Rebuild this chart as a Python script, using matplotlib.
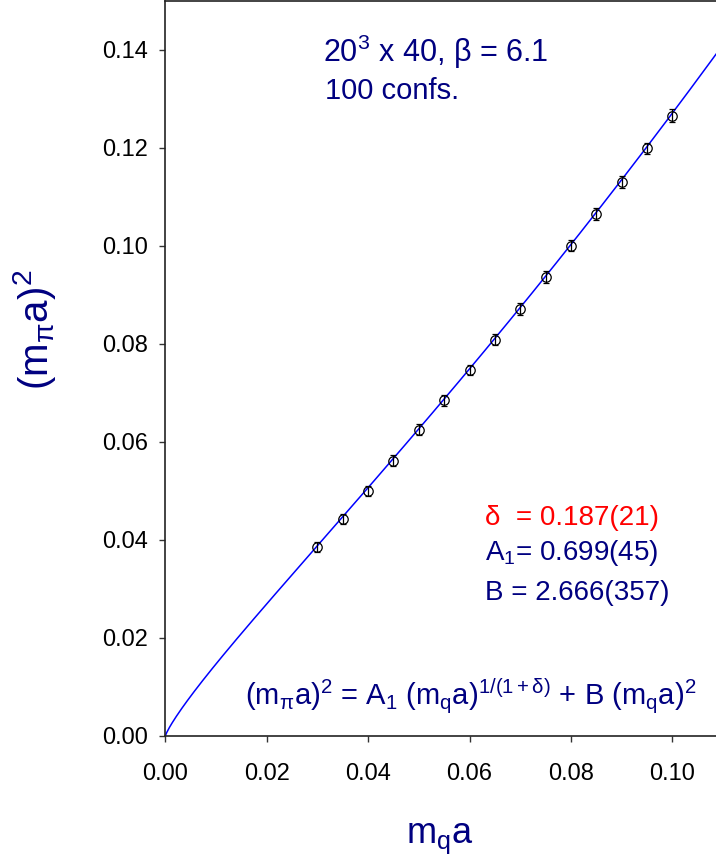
import matplotlib
matplotlib.use("Agg")
import matplotlib.pyplot as plt
import numpy as np

plt.rcParams['font.family'] = ['Liberation Sans', 'DejaVu Sans']
plt.rcParams['mathtext.fontset'] = 'custom'
plt.rcParams['mathtext.rm'] = 'Liberation Sans'
plt.rcParams['mathtext.it'] = 'Liberation Sans'
plt.rcParams['mathtext.bf'] = 'Liberation Sans:bold'

# data
mq = [0.030, 0.035, 0.040, 0.045, 0.050, 0.055, 0.060, 0.065,
      0.070, 0.075, 0.080, 0.085, 0.090, 0.095, 0.100]
mpi2 = [0.0385, 0.0443, 0.0500, 0.0562, 0.0625, 0.0685, 0.0747, 0.0809,
        0.0872, 0.0936, 0.1001, 0.1066, 0.1131, 0.1199, 0.1266]
err = [0.0010, 0.0010, 0.0010, 0.0011, 0.0011, 0.0011, 0.0011, 0.0012,
       0.0012, 0.0012, 0.0012, 0.0012, 0.0012, 0.0012, 0.0013]

# fit parameters
delta = 0.187
A1 = 0.699
B = 2.666

navy = '#000080'
W, H = 716, 867

fig = plt.figure(figsize=(W / 100, H / 100), dpi=100)
ax = fig.add_axes([165.3 / W, (H - 736) / H, 1 - 165.3 / W, 735 / H])

xf = np.linspace(0, 0.1086, 400)
yf = A1 * xf ** (1 / (1 + delta)) + B * xf ** 2
ax.plot(xf, yf, color='#0000ff', lw=1.1, zorder=2)

ax.errorbar(mq, mpi2, yerr=err, fmt='o', ms=6.8, mfc='none', mec='black',
            mew=0.9, ecolor='black', elinewidth=0.9, capsize=2.5,
            capthick=0.9, zorder=3)

ax.set_xlim(0, 0.1086)
ax.set_ylim(0, 0.150)
ax.set_xticks(np.arange(0, 0.101, 0.02))
ax.set_yticks(np.arange(0, 0.141, 0.02))
ax.xaxis.set_major_formatter(matplotlib.ticker.FormatStrFormatter('%.2f'))
ax.yaxis.set_major_formatter(matplotlib.ticker.FormatStrFormatter('%.2f'))
ax.tick_params(axis='both', direction='out', length=4.5, width=1,
               color='#333333', labelsize=17)
ax.tick_params(axis='x', pad=15)
ax.tick_params(axis='y', pad=8)
ax.spines['right'].set_visible(False)
for s in ['left', 'bottom', 'top']:
    ax.spines[s].set_color('#222222')
    ax.spines[s].set_linewidth(1.2)

def px(x, y):
    return x / W, 1 - y / H

fig.text(*px(440, 838), r'$\mathregular{m_qa}$', color=navy, fontsize=26,
         ha='center', va='center')
fig.text(*px(35, 330), r'$\mathregular{(m_{\pi}a)^2}$', color=navy,
         fontsize=29, ha='center', va='center', rotation=90)

fig.text(*px(323, 62), r'$\mathregular{20^3}$ x 40, β = 6.1', color=navy,
         fontsize=22, ha='left', va='baseline')
fig.text(*px(325, 99), '100 confs.', color=navy, fontsize=21,
         ha='left', va='baseline')

fig.text(*px(485, 525), 'δ  = 0.187(21)', color='#ff0000', fontsize=20,
         ha='left', va='baseline')
fig.text(*px(485, 560), r'$\mathregular{A_1}$= 0.699(45)', color=navy,
         fontsize=20, ha='left', va='baseline')
fig.text(*px(485, 600), 'B = 2.666(357)', color=navy, fontsize=20,
         ha='left', va='baseline')

fig.text(*px(245, 705),
         r'$\mathregular{(m_{\pi}a)^2}$ = $\mathregular{A_1}$ '
         r'$\mathregular{(m_qa)^{1/(1+\delta)}}$ + B $\mathregular{(m_qa)^2}$',
         color=navy, fontsize=21, ha='left', va='baseline')

fig.savefig('out.png', dpi=100)
